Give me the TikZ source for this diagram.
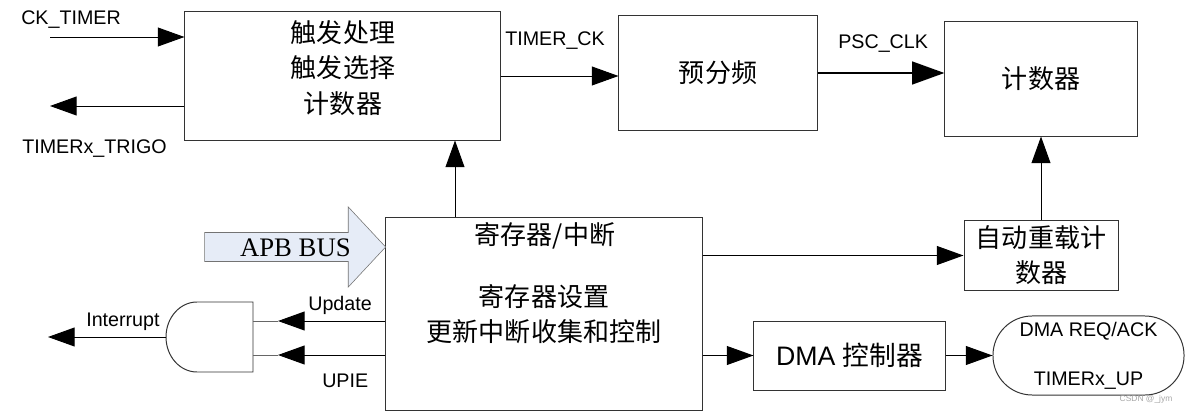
\documentclass[tikz,border=0pt]{standalone}
\usepackage{fontspec}
\setmainfont{Liberation Sans}
\newfontfamily\cjk{Noto Sans CJK SC}
\newfontfamily\tms{Liberation Serif}
\usetikzlibrary{arrows.meta,shapes.arrows}
\definecolor{apbfill}{RGB}{230,236,247}
\begin{document}
\begin{tikzpicture}[x=0.025cm,y=-0.025cm,
	blk/.style={draw=black!80,line width=0.7pt,inner sep=0pt},
	arr/.style={-{Triangle[length=19pt,width=13.5pt]},line width=0.7pt},
	fat/.style={-{Triangle[length=23pt,width=16pt]},line width=2.1pt},
	lbl/.style={font=\fontsize{14}{17}\selectfont,inner sep=0pt},
	zh/.style={font=\cjk\fontsize{18.5}{25}\selectfont,align=center}]
\useasboundingbox (0,0) rectangle (1188,413);
% boxes
\node[blk,minimum width=7.875cm,minimum height=3.2cm] (trig) at (342.5,76) {};
\node[zh] (trigtxt) at (343,68) {触发处理\\触发选择\\计数器};
\node[blk,zh,minimum width=4.95cm,minimum height=2.85cm] (psc) at (718,73) {预分频};
\node[blk,zh,minimum width=4.8cm,minimum height=2.85cm] (cnt) at (1041,79) {计数器};
\node[blk,zh,minimum width=7.9cm,minimum height=4.8cm] (reg) at (544,314) {寄存器设置\\更新中断收集和控制};
\node[zh] (regtop) at (545,236) {寄存器/中断};
\node[blk,zh,minimum width=3.85cm,minimum height=1.725cm] (arl) at (1041,255.5) {自动重载计\\数器};
\node[blk,minimum width=4.775cm,minimum height=1.725cm,font=\fontsize{19}{22}\selectfont] (dma) at (849.5,355.5) {DMA {\cjk 控制器}};
\node[blk,lbl,align=center,rounded corners=0.98cm,minimum width=4.775cm,minimum height=1.975cm] (req) at (1088.5,355.5) {DMA REQ/ACK\\[18pt]TIMERx\_UP};
\node[single arrow,draw=black!55,fill=apbfill,font=\tms\fontsize{19}{20}\selectfont,
	text height=13.6pt,text depth=0pt,inner xsep=2pt,inner ysep=3.3pt,minimum height=4.525cm,
	single arrow head extend=0.64cm,single arrow tip angle=94,anchor=tip] (apb) at (386,247) {\hspace*{10pt}APB BUS};
% and gate
\draw[line width=0.7pt,black!80] (253,302) -- (197,302) arc[start angle=270,end angle=90,x radius=31,y radius=35] -- (253,372) -- cycle;
\coordinate (g1) at (253,321);
\coordinate (g2) at (253,355);
\coordinate (gout) at (166,337);
\coordinate (intr) at (48,337);
\coordinate (ckin) at (50,37);
\coordinate (trgo) at (50,106);
\coordinate (up) at (455,0);
% labels
\node[lbl,anchor=west] (cklbl) at (21,20) {CK\_TIMER};
\node[lbl,anchor=west] (trgolbl) at (22,149) {TIMERx\_TRIGO};
\node[lbl,anchor=west] (tcklbl) at (505,41) {TIMER\_CK};
\node[lbl,anchor=west] (psclbl) at (838,44) {PSC\_CLK};
\node[lbl,anchor=west] (updlbl) at (308,305) {Update};
\node[lbl,anchor=west] (upielbl) at (322,381) {UPIE};
\node[lbl,anchor=west] (intlbl) at (86,322) {Interrupt};
\node[font=\fontsize{6}{7}\selectfont,text=black!35,inner sep=0pt] (wm) at (1146,399) {CSDN @\_jym};
% connectors
\draw[arr] (ckin) -- (ckin -| trig.west);
\draw[arr] (trgo -| trig.west) -- (trgo);
\draw[arr] (trig.east) -- (psc.west |- trig.east);
\draw[fat] (psc.east) -- (cnt.west |- psc.east);
\draw[arr] (reg.north -| up) -- (trig.south -| up);
\draw[arr] (arl.west -| reg.east) -- (arl.west);
\draw[arr] (arl.north) -- (cnt.south);
\draw[arr] (dma.west -| reg.east) -- (dma.west);
\draw[arr] (dma.east) -- (req.west);
\draw[arr,shorten >=0.625cm] (reg.west |- g1) -- (g1);
\draw[arr,shorten >=0.625cm] (reg.west |- g2) -- (g2);
\draw[black!60,line width=0.7pt] (g1) -- ++(25,0) (g2) -- ++(25,0);
\draw[arr] (gout) -- (intr);
\end{tikzpicture}
\end{document}
